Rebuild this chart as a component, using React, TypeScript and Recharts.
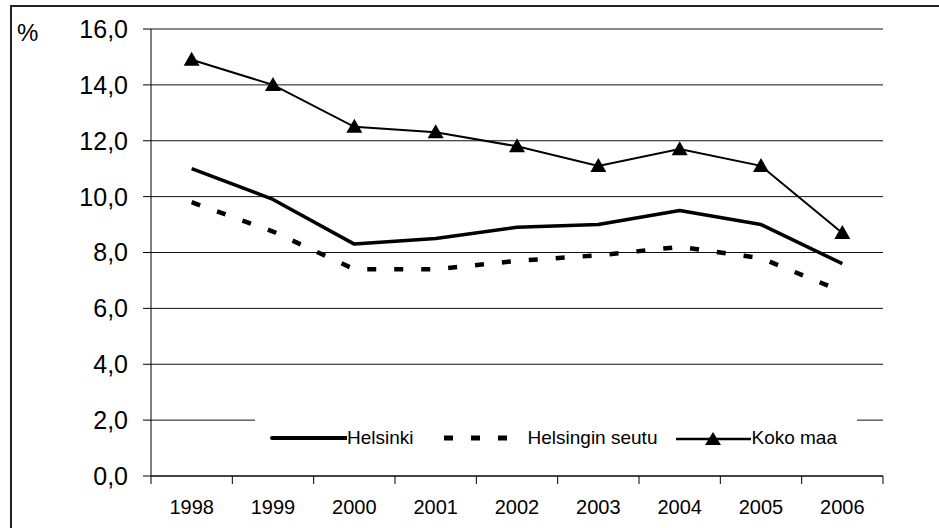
import React from 'react';
import {
  CartesianGrid,
  Legend,
  Line,
  LineChart,
  XAxis,
  YAxis,
} from 'recharts';

const years = ['1998', '1999', '2000', '2001', '2002', '2003', '2004', '2005', '2006'];
const helsinki = [11.0, 9.9, 8.3, 8.5, 8.9, 9.0, 9.5, 9.0, 7.6];
const helsinginSeutu = [9.8, 8.75, 7.4, 7.4, 7.7, 7.9, 8.2, 7.8, 6.6];
const kokoMaa = [14.9, 14.0, 12.5, 12.3, 11.8, 11.1, 11.7, 11.1, 8.7];
const yTicks = [0, 2, 4, 6, 8, 10, 12, 14, 16];

const chartData = years.map((year, i) => ({
  year,
  helsinki: helsinki[i],
  seutu: helsinginSeutu[i],
  koko: kokoMaa[i],
}));

const FONT = '"Liberation Sans", Arial, sans-serif';
const CHART_W = 939;
const CHART_H = 528;
const PLOT_LEFT = 151;
const PLOT_RIGHT = 883;
const HALF_BAND = (PLOT_RIGHT - PLOT_LEFT) / years.length / 2;

const fmt = (v: number) => v.toFixed(1).replace('.', ',');

const YearTick = (props: any) => {
  const { x, y, payload, index } = props;
  return (
    <g>
      {index === 0 && (
        <line x1={x - HALF_BAND} x2={x - HALF_BAND} y1={y} y2={y + 8} stroke="#000" />
      )}
      <line x1={x + HALF_BAND} x2={x + HALF_BAND} y1={y} y2={y + 8} stroke="#000" />
      <text x={x} y={y + 24} dy="0.71em" textAnchor="middle" fontSize={20} fontFamily={FONT} fill="#000">
        {payload.value}
      </text>
    </g>
  );
};

const Triangle = (props: any) => {
  const { cx, cy } = props;
  if (cx == null || cy == null) return null;
  return (
    <polygon
      points={`${cx - 8},${cy + 6} ${cx + 8},${cy + 6} ${cx},${cy - 8}`}
      fill="#000"
    />
  );
};

const LegendBox = () => (
  <div
    style={{
      display: 'flex',
      alignItems: 'center',
      height: '100%',
      paddingLeft: 15,
      fontFamily: FONT,
      fontSize: 19,
      color: '#000',
    }}
  >
    <svg width={77} height={20}>
      <line x1={2} x2={77} y1={10} y2={10} stroke="#000" strokeWidth={4} strokeLinecap="round" />
    </svg>
    <span>Helsinki</span>
    <svg width={84} height={20} style={{ marginLeft: 30 }}>
      <line x1={0} x2={64} y1={10} y2={10} stroke="#000" strokeWidth={5} strokeDasharray="9 18" />
    </svg>
    <span>Helsingin seutu</span>
    <svg width={75} height={20} style={{ marginLeft: 19 }}>
      <line x1={0} x2={75} y1={11} y2={11} stroke="#000" strokeWidth={2.5} />
      <polygon points="29,17 45,17 37,4" fill="#000" />
    </svg>
    <span>Koko maa</span>
  </div>
);

export default function App() {
  return (
    <div style={{ position: 'absolute', left: 0, top: 0, width: CHART_W, height: CHART_H, overflow: 'hidden', background: '#fff' }}>
      <div
        style={{
          position: 'absolute',
          left: 10,
          top: 5,
          width: 960,
          height: 560,
          borderLeft: '2px solid #222',
          borderTop: '2px solid #222',
        }}
      />
      <div
        style={{
          position: 'absolute',
          left: 17,
          top: 21,
          fontFamily: FONT,
          fontSize: 24,
          lineHeight: '24px',
          color: '#000',
        }}
      >
        %
      </div>
      <div style={{ position: 'absolute', left: 0, top: 0 }}>
        <LineChart
          width={CHART_W}
          height={CHART_H}
          data={chartData}
          margin={{ top: 29, right: CHART_W - PLOT_RIGHT, bottom: 0, left: 71 }}
        >
          <CartesianGrid vertical={false} stroke="#111" />
          <XAxis
            dataKey="year"
            padding={{ left: HALF_BAND, right: HALF_BAND }}
            interval={0}
            tickLine={false}
            tickSize={0}
            tickMargin={0}
            axisLine={{ stroke: '#000' }}
            tick={<YearTick />}
            height={52}
          />
          <YAxis
            domain={[0, 16]}
            ticks={yTicks}
            tickFormatter={fmt}
            width={PLOT_LEFT - 71}
            tickSize={8}
            tickMargin={15}
            tickLine={{ stroke: '#000' }}
            axisLine={{ stroke: '#000' }}
            tick={{ fontSize: 25, fontFamily: FONT, fill: '#000' }}
            interval={0}
          />
          <YAxis
            yAxisId="right"
            orientation="right"
            width={0}
            tick={false}
            tickLine={false}
            axisLine={{ stroke: '#888' }}
          />
          <Legend
            layout="vertical"
            align="center"
            verticalAlign="middle"
            content={<LegendBox />}
            wrapperStyle={{
              position: 'absolute',
              left: 255,
              top: 414,
              width: 602,
              height: 48,
              backgroundColor: '#fff',
            }}
          />
          <Line
            type="linear"
            dataKey="helsinki"
            name="Helsinki"
            stroke="#000"
            strokeWidth={3.5}
            strokeLinejoin="round"
            dot={false}
            activeDot={false}
            isAnimationActive={false}
          />
          <Line
            type="linear"
            dataKey="seutu"
            name="Helsingin seutu"
            stroke="#000"
            strokeWidth={4.5}
            strokeDasharray="9 18"
            dot={false}
            activeDot={false}
            isAnimationActive={false}
          />
          <Line
            type="linear"
            dataKey="koko"
            name="Koko maa"
            stroke="#000"
            strokeWidth={2}
            dot={<Triangle />}
            activeDot={false}
            isAnimationActive={false}
          />
        </LineChart>
      </div>
    </div>
  );
}
